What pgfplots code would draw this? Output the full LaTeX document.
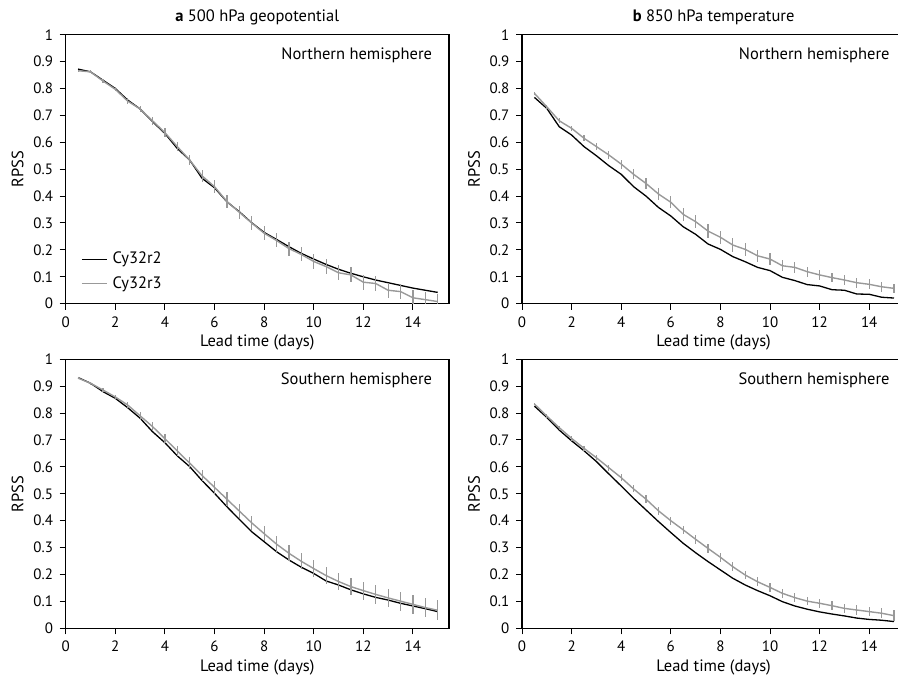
\documentclass[border=0pt]{standalone}
\usepackage{fontspec}
\setmainfont{PT Sans}
\usepackage{pgfplots}
\pgfplotsset{compat=1.18}
\usepackage{pgfplotstable}
\definecolor{cgray}{gray}{0.6}

% a: 500 hPa geopotential, NH
\pgfplotstableread{
x y
0.5 0.872
1 0.862
1.5 0.831
2 0.800
2.5 0.757
3 0.724
3.5 0.677
4 0.633
4.5 0.577
5 0.534
5.5 0.466
6 0.431
6.5 0.379
7 0.342
7.5 0.301
8 0.265
8.5 0.239
9 0.212
9.5 0.187
10 0.166
10.5 0.146
11 0.128
11.5 0.113
12 0.100
12.5 0.088
13 0.078
13.5 0.068
14 0.058
14.5 0.050
15 0.042
}\aNHb
\pgfplotstableread{
x y e
0.5 0.866 0.004
1 0.862 0.005
1.5 0.828 0.006
2 0.797 0.008
2.5 0.753 0.010
3 0.724 0.012
3.5 0.680 0.014
4 0.636 0.016
4.5 0.584 0.018
5 0.534 0.020
5.5 0.475 0.022
6 0.435 0.024
6.5 0.380 0.025
7 0.340 0.025
7.5 0.300 0.026
8 0.262 0.026
8.5 0.235 0.026
9 0.205 0.026
9.5 0.183 0.026
10 0.157 0.027
10.5 0.138 0.027
11 0.115 0.027
11.5 0.107 0.028
12 0.080 0.028
12.5 0.075 0.028
13 0.050 0.028
13.5 0.045 0.029
14 0.022 0.029
14.5 0.015 0.029
15 0.008 0.029
}\aNHg
% b: 850 hPa temperature, NH
\pgfplotstableread{
x y
0.5 0.767
1 0.726
1.5 0.658
2 0.627
2.5 0.584
3 0.550
3.5 0.513
4 0.481
4.5 0.435
5 0.400
5.5 0.358
6 0.326
6.5 0.286
7 0.258
7.5 0.222
8 0.202
8.5 0.175
9 0.156
9.5 0.135
10 0.123
10.5 0.098
11 0.086
11.5 0.071
12 0.066
12.5 0.052
13 0.050
13.5 0.036
14 0.035
14.5 0.024
15 0.021
}\bNHb
\pgfplotstableread{
x y e
0.5 0.782 0.006
1 0.732 0.007
1.5 0.680 0.009
2 0.652 0.010
2.5 0.615 0.012
3 0.584 0.014
3.5 0.553 0.016
4 0.519 0.017
4.5 0.481 0.019
5 0.447 0.020
5.5 0.408 0.021
6 0.377 0.022
6.5 0.332 0.024
7 0.305 0.025
7.5 0.270 0.025
8 0.247 0.025
8.5 0.218 0.025
9 0.202 0.024
9.5 0.178 0.023
10 0.166 0.022
10.5 0.141 0.021
11 0.135 0.020
11.5 0.119 0.019
12 0.107 0.019
12.5 0.097 0.018
13 0.088 0.018
13.5 0.078 0.018
14 0.072 0.018
14.5 0.063 0.018
15 0.057 0.018
}\bNHg
% a: SH
\pgfplotstableread{
x y
0.5 0.932
1 0.911
1.5 0.880
2 0.855
2.5 0.820
3 0.781
3.5 0.731
4 0.690
4.5 0.641
5 0.601
5.5 0.549
6 0.502
6.5 0.452
7 0.405
7.5 0.359
8 0.322
8.5 0.285
9 0.254
9.5 0.227
10 0.204
10.5 0.176
11 0.161
11.5 0.143
12 0.128
12.5 0.115
13 0.105
13.5 0.093
14 0.083
14.5 0.073
15 0.062
}\aSHb
\pgfplotstableread{
x y e
0.5 0.930 0.003
1 0.911 0.005
1.5 0.886 0.007
2 0.860 0.009
2.5 0.830 0.012
3 0.790 0.014
3.5 0.750 0.016
4 0.705 0.018
4.5 0.659 0.020
5 0.614 0.021
5.5 0.568 0.022
6 0.524 0.024
6.5 0.480 0.025
7 0.436 0.026
7.5 0.392 0.027
8 0.352 0.028
8.5 0.313 0.029
9 0.279 0.030
9.5 0.249 0.030
10 0.222 0.031
10.5 0.196 0.031
11 0.174 0.032
11.5 0.155 0.032
12 0.140 0.033
12.5 0.126 0.034
13 0.113 0.034
13.5 0.101 0.035
14 0.089 0.035
14.5 0.077 0.036
15 0.067 0.037
}\aSHg
% b: SH
\pgfplotstableread{
x y
0.5 0.826
1 0.784
1.5 0.737
2 0.697
2.5 0.660
3 0.620
3.5 0.574
4 0.529
4.5 0.483
5 0.440
5.5 0.397
6 0.356
6.5 0.316
7 0.281
7.5 0.248
8 0.217
8.5 0.186
9 0.161
9.5 0.140
10 0.121
10.5 0.099
11 0.083
11.5 0.071
12 0.061
12.5 0.053
13 0.046
13.5 0.038
14 0.033
14.5 0.030
15 0.025
}\bSHb
\pgfplotstableread{
x y e
0.5 0.834 0.005
1 0.789 0.006
1.5 0.746 0.007
2 0.706 0.008
2.5 0.669 0.009
3 0.634 0.010
3.5 0.597 0.011
4 0.560 0.012
4.5 0.518 0.013
5 0.480 0.014
5.5 0.437 0.015
6 0.400 0.015
6.5 0.366 0.016
7 0.331 0.016
7.5 0.297 0.016
8 0.264 0.016
8.5 0.229 0.016
9 0.198 0.016
9.5 0.173 0.016
10 0.152 0.016
10.5 0.130 0.016
11 0.114 0.016
11.5 0.101 0.016
12 0.093 0.016
12.5 0.084 0.016
13 0.074 0.017
13.5 0.068 0.017
14 0.062 0.018
14.5 0.056 0.019
15 0.047 0.020
}\bSHg

\pgfplotsset{
  panel/.style={
    anchor=south west,
    scale only axis,
    x=24.8bp, y=269bp,
    xmin=0, xmax=15.45, ymin=0, ymax=1,
    xtick={0,2,4,6,8,10,12,14},
    ytick={0,0.1,0.2,0.3,0.4,0.5,0.6,0.7,0.8,0.9,1},
    yticklabels={0,0.1,0.2,0.3,0.4,0.5,0.6,0.7,0.8,0.9,1},
    xticklabels={0,2,4,6,8,10,12,14},
    tick align=outside, tick pos=left,
    major tick length=6bp,
    tick style={black, line width=1bp},
    axis line style={black, line width=1.3bp},
    ticklabel style={font=\fontsize{15bp}{17bp}\selectfont},
    xlabel={Lead time (days)}, ylabel={RPSS},
    xlabel style={at={(axis description cs:0.5,0)}, anchor=center, yshift=-39bp},
    ylabel style={at={(axis description cs:0,0.5)}, anchor=center, yshift=48bp},
    title style={at={(axis description cs:0.5,1)}, anchor=center, yshift=11bp},
    xticklabel style={yshift=-1bp},
    yticklabel style={xshift=-1bp},
  },
  blk/.style={black, line width=1.3bp, mark=none},
  gry/.style={cgray, line width=1.4bp, mark=none,
    error bars/.cd, y dir=both, y explicit, error mark=none,
    error bar style={cgray, line width=1.2bp}},
}

\begin{document}
\fontsize{16.5bp}{19bp}\selectfont
\begin{tikzpicture}
\useasboundingbox (0,0) rectangle (898bp,675bp);

\begin{axis}[panel, at={(65.7bp,371.3bp)},
  title={\textbf{a} 500 hPa geopotential},
  legend style={at={(axis cs:0.62,0.20)}, anchor=north west, draw=none, fill=none,
    row sep=6bp, column sep=3bp, inner sep=0pt, font=\fontsize{16.5bp}{19bp}\selectfont},
  legend cell align=left,
  legend image code/.code={\draw[#1] (0bp,0bp) -- (25bp,0bp);}]
\addplot[blk] table[x=x,y=y] {\aNHb};
\addlegendentry{Cy32r2}
\addplot[gry] table[x=x,y=y,y error=e] {\aNHg};
\addlegendentry{Cy32r3}
\node[anchor=east] at (axis cs:15.0,0.925) {Northern hemisphere};
\end{axis}

\begin{axis}[panel, at={(522bp,371.3bp)},
  title={\textbf{b} 850 hPa temperature}]
\addplot[blk] table[x=x,y=y] {\bNHb};
\addplot[gry] table[x=x,y=y,y error=e] {\bNHg};
\node[anchor=east] at (axis cs:15.05,0.925) {Northern hemisphere};
\end{axis}

\begin{axis}[panel, at={(65.7bp,46.7bp)}]
\addplot[blk] table[x=x,y=y] {\aSHb};
\addplot[gry] table[x=x,y=y,y error=e] {\aSHg};
\node[anchor=east] at (axis cs:15.0,0.923) {Southern hemisphere};
\end{axis}

\begin{axis}[panel, at={(522bp,46.7bp)}]
\addplot[blk] table[x=x,y=y] {\bSHb};
\addplot[gry] table[x=x,y=y,y error=e] {\bSHg};
\node[anchor=east] at (axis cs:15.05,0.923) {Southern hemisphere};
\end{axis}
\end{tikzpicture}
\end{document}
